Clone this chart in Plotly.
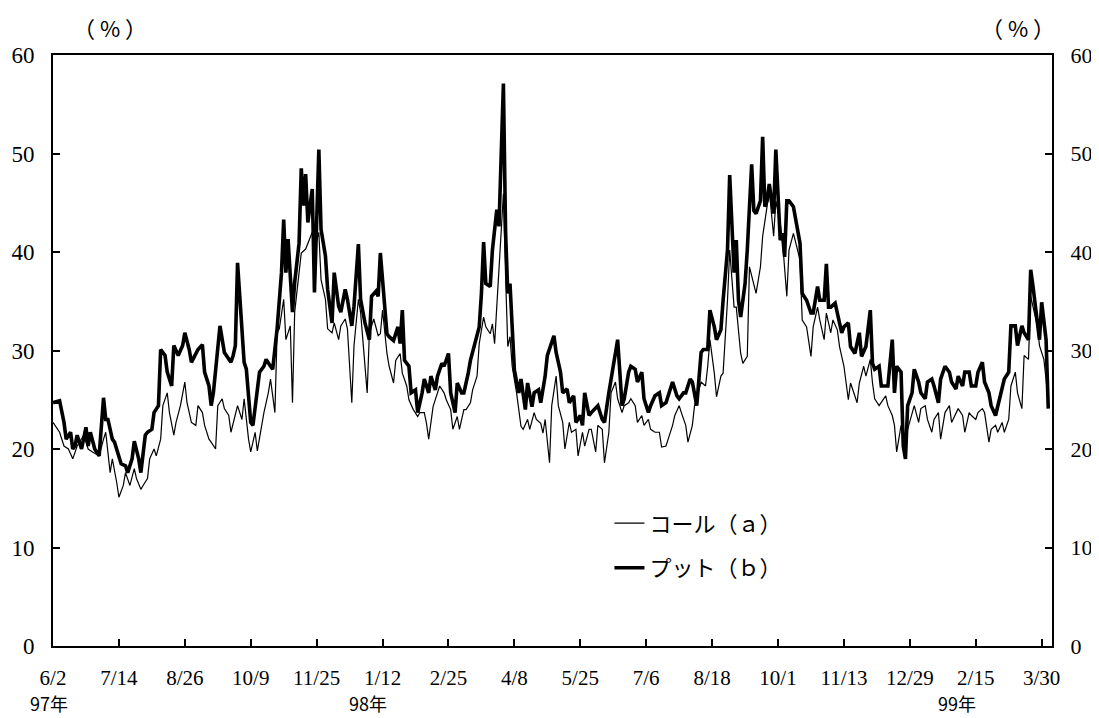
import plotly.graph_objects as go

# x = trading-day index counted from 1997/6/2
tick_days = [0, 30, 60, 90, 120, 150, 180, 210, 240, 270, 300, 330, 360, 390, 420, 450]
tick_labels = ["6/2", "7/14", "8/26", "10/9", "11/25", "1/12", "2/25", "4/8",
               "5/25", "7/6", "8/18", "10/1", "11/13", "12/29", "2/15", "3/30"]
y_ticks = [0, 10, 20, 30, 40, 50, 60]

call_day = [0, 3, 5, 7, 9, 11, 14, 16, 18, 21, 23, 24, 26, 27, 29, 30, 32, 33, 35, 37, 38, 40, 41, 43, 44, 46, 47, 49, 50, 52, 53, 55, 56, 58, 60, 61, 63, 65, 66, 68, 69, 71, 72,
            74, 75, 77, 78, 80, 81, 83, 84, 86, 87, 89, 90, 92, 93, 95, 96, 98, 99, 101, 102, 103, 105, 106, 108, 109, 110, 112, 113, 115, 116, 118, 119, 121, 122, 124, 125, 127, 128, 130, 131, 133, 134, 136, 137, 139, 140, 143, 144, 146, 148,
            149, 150, 152, 153, 155, 156, 158, 159, 161, 162, 164, 166, 167, 169, 170, 171, 173, 175, 176, 178, 179, 181, 182, 184, 185, 187, 188, 190, 191, 193, 194, 196, 197, 199, 200, 201, 203, 204, 205, 206, 207, 208, 209, 211, 213, 214, 216, 217, 219, 220, 222, 223,
            224, 226, 227, 229, 230, 232, 233, 235, 236, 238, 239, 241, 242, 244, 245, 247, 248, 250, 251, 253, 254, 256, 257, 259, 260, 262, 263, 265, 266, 268, 269, 271, 272, 274, 276, 277, 279, 280, 282, 283, 285, 286, 288, 289, 291, 292, 294, 295, 297, 298,
            299, 301, 302, 304, 305, 307, 308, 310, 311, 313, 314, 316, 317, 319, 320, 322, 323, 325, 326, 328, 329, 331, 332, 334, 335, 337, 338, 340, 341, 343, 345, 346, 348, 349, 351, 352, 354, 355, 357, 358, 360, 362, 363, 364, 366, 367, 369, 370, 372, 373,
            374, 376, 377, 379, 380, 382, 383, 384, 386, 388, 389, 391, 392, 394, 395, 397, 398, 400, 401, 403, 404, 406, 408, 409, 411, 412, 414, 415, 417, 418, 420, 421, 423, 424, 426, 427, 429, 430, 432, 433, 435, 436, 438, 439, 441, 442, 444, 445, 446, 448, 449, 451, 452, 453]
call_val = [22.7, 21.7, 20.3, 20.0, 19.0, 20.3, 21.4, 20.0, 19.7, 19.3, 21.0, 21.7, 17.6, 19.0, 16.6, 15.1, 16.3, 17.6, 16.3, 18.0, 17.0, 15.9, 16.3, 17.0, 19.0, 20.0, 19.3, 21.0, 24.4, 25.7, 23.7, 21.4, 22.7, 24.4, 26.8, 24.7, 22.7, 22.4, 24.4, 23.7, 22.4, 21.0, 20.7,
            20.0, 24.4, 25.1, 24.1, 23.4, 21.7, 23.7, 24.4, 23.0, 25.1, 21.0, 19.7, 21.7, 19.8, 22.4, 23.7, 25.7, 27.1, 23.7, 31.8, 32.2, 35.2, 31.1, 32.5, 24.7, 33.9, 37.9, 39.9, 40.3, 40.9, 42.0, 40.3, 42.0, 37.2, 35.2, 32.2, 31.8, 32.8, 31.1, 32.5, 33.2, 32.2, 24.7, 30.5, 35.2, 33.9, 25.7, 31.8, 33.2, 31.5,
            31.7, 34.1, 29.7, 28.4, 26.7, 29.0, 29.7, 27.7, 26.4, 25.0, 24.0, 23.3, 23.7, 23.7, 22.6, 21.0, 24.3, 25.7, 26.4, 25.7, 25.0, 24.0, 22.0, 23.3, 22.0, 24.0, 24.0, 24.7, 26.0, 27.4, 30.7, 33.4, 32.4, 31.7, 32.7, 30.7, 38.5, 41.8, 45.9, 37.5, 30.4, 31.4, 28.4, 25.7, 22.3, 22.0, 23.0, 22.0, 23.7, 23.0, 22.6, 21.6,
            23.0, 18.6, 24.4, 27.4, 24.4, 22.7, 20.0, 22.7, 21.7, 22.0, 19.3, 21.7, 20.3, 22.0, 22.0, 19.7, 22.4, 22.0, 18.6, 21.7, 25.7, 26.8, 25.1, 23.7, 24.4, 24.7, 25.1, 24.4, 22.7, 23.4, 22.4, 23.0, 22.0, 21.7, 21.7, 20.2, 20.3, 21.0, 22.4, 23.4, 24.4, 23.7, 22.4, 20.7, 22.4, 24.4, 26.1, 26.8, 26.4, 28.4,
            31.1, 27.7, 25.3, 27.4, 27.7, 35.1, 40.2, 34.4, 34.4, 29.7, 28.7, 29.4, 38.5, 36.5, 35.8, 38.5, 41.6, 44.6, 46.3, 41.6, 45.2, 42.9, 41.2, 35.5, 40.2, 41.9, 40.9, 39.2, 33.1, 32.4, 29.4, 32.4, 34.4, 33.1, 31.1, 33.8, 31.8, 33.1, 32.1, 30.4, 28.4, 25.0, 26.7, 26.0, 24.7, 26.7, 28.4, 27.4, 29.1, 26.7,
            25.1, 24.4, 24.7, 25.4, 24.4, 23.4, 22.4, 19.7, 22.4, 21.0, 22.0, 23.7, 24.4, 22.7, 24.1, 24.4, 23.0, 21.7, 23.0, 23.7, 21.0, 23.7, 24.4, 22.7, 23.7, 24.1, 23.4, 21.7, 23.7, 23.4, 23.0, 23.7, 24.1, 23.7, 20.7, 22.0, 22.4, 21.7, 22.7, 21.7, 23.0, 26.4, 27.8, 25.7, 24.1, 29.5, 29.1, 35.5, 34.5, 32.5, 30.5, 29.1, 27.1, 24.4]

put_day = [0, 3, 5, 6, 8, 9, 10, 11, 13, 15, 16, 17, 19, 21, 23, 24, 25, 27, 28, 30, 31, 33, 34, 36, 37, 39, 40, 42, 43, 45, 46, 48, 49, 51, 52, 54, 55, 57, 59, 60, 62, 63, 65, 66, 68, 69, 71, 72, 73,
           75, 76, 78, 79, 81, 82, 83, 84, 86, 87, 88, 89, 90, 91, 93, 94, 96, 97, 99, 100, 102, 103, 104, 105, 106, 107, 108, 109, 110, 112, 113, 114, 115, 116, 118, 119, 120, 121, 122, 124, 125, 127, 128, 130, 131, 133, 134, 136, 137, 139, 140, 142, 144, 145, 147, 148,
           149, 150, 152, 153, 155, 157, 158, 159, 160, 162, 163, 165, 166, 168, 169, 171, 172, 174, 175, 177, 178, 180, 181, 183, 184, 186, 187, 189, 190, 192, 194, 195, 196, 197, 199, 200, 202, 203, 204, 205, 206, 207, 208, 209, 210, 212, 213, 215, 216, 218, 219, 221, 222,
           224, 225, 228, 229, 231, 232, 234, 235, 237, 238, 240, 241, 242, 244, 245, 247, 248, 250, 251, 253, 254, 256, 257, 258, 259, 260, 262, 263, 265, 266, 268, 269, 271, 272, 274, 276, 277, 279, 280, 282, 284, 285, 287, 288, 290, 291, 293, 295, 296, 298,
           299, 301, 302, 304, 305, 307, 308, 309, 310, 311, 312, 313, 315, 316, 318, 319, 320, 322, 323, 324, 325, 326, 328, 329, 331, 332, 333, 334, 335, 337, 338, 340, 341, 343, 345, 346, 348, 349, 351, 352, 353, 354, 356, 357, 359, 360, 362, 363, 365, 367, 368, 370, 372, 373,
           374, 376, 377, 379, 380, 382, 383, 384, 386, 387, 388, 389, 391, 392, 394, 395, 397, 398, 400, 401, 403, 404, 406, 408, 409, 411, 412, 414, 415, 417, 418, 420, 421, 423, 424, 426, 427, 429, 430, 432, 433, 435, 436, 438, 439, 441, 442, 444, 445, 446, 448, 449, 450, 452, 453]
put_val = [24.7, 24.9, 22.7, 21.0, 21.7, 20.0, 20.3, 21.4, 20.0, 22.2, 20.3, 21.7, 20.0, 19.3, 25.2, 23.0, 23.0, 21.0, 20.7, 19.0, 18.5, 18.3, 17.6, 19.0, 20.8, 19.0, 17.6, 21.4, 21.7, 22.0, 23.7, 24.4, 30.1, 29.5, 27.8, 26.4, 30.5, 29.5, 30.5, 31.8, 30.1, 28.8, 29.8, 30.1, 30.6, 27.8, 26.4, 24.4, 25.7,
           29.8, 32.5, 29.8, 29.5, 28.8, 29.5, 30.5, 38.9, 31.1, 28.8, 28.1, 25.7, 22.7, 22.4, 25.7, 27.8, 28.4, 29.1, 28.4, 28.1, 32.2, 35.2, 37.9, 43.3, 37.9, 41.3, 37.2, 33.9, 36.9, 40.9, 48.5, 44.7, 47.9, 43.0, 46.4, 35.9, 43.0, 50.4, 42.3, 39.6, 36.2, 32.8, 37.9, 34.5, 33.9, 36.2, 35.2, 32.5, 34.5, 40.8, 35.2, 32.8, 31.1, 35.5, 36.0, 35.5,
           39.9, 36.8, 31.7, 31.4, 31.0, 32.4, 30.7, 34.1, 29.0, 28.4, 25.7, 26.0, 23.7, 25.7, 27.1, 25.7, 27.4, 26.0, 27.4, 28.7, 28.4, 29.7, 25.7, 23.7, 26.7, 25.7, 25.7, 27.7, 29.0, 30.7, 32.4, 35.8, 41.0, 36.8, 36.5, 40.2, 44.3, 42.6, 49.4, 57.1, 42.0, 35.8, 36.8, 32.4, 28.0, 25.7, 27.1, 24.0, 26.7, 24.3, 25.7, 26.0, 24.7,
           27.4, 29.5, 31.5, 29.8, 27.8, 25.7, 26.1, 24.7, 25.4, 22.7, 23.4, 22.4, 25.7, 23.4, 23.7, 24.1, 24.4, 23.0, 22.7, 25.7, 27.1, 29.5, 31.1, 27.8, 24.4, 25.1, 27.8, 28.4, 28.1, 26.8, 27.8, 25.1, 23.7, 24.4, 25.4, 25.7, 24.4, 24.7, 25.4, 26.8, 25.4, 25.1, 25.7, 25.7, 27.1, 26.8, 24.4, 29.8, 30.1, 30.1,
           34.1, 32.4, 31.1, 32.1, 35.1, 40.2, 47.8, 41.9, 37.9, 41.2, 35.1, 33.4, 36.8, 40.2, 48.9, 44.2, 43.9, 45.2, 51.7, 44.6, 45.2, 46.9, 43.9, 50.4, 41.2, 41.9, 39.5, 45.2, 45.2, 44.6, 43.5, 40.9, 35.8, 35.1, 33.8, 33.8, 36.5, 35.1, 35.1, 38.8, 34.4, 34.4, 34.8, 33.8, 31.8, 32.4, 32.8, 30.4, 29.7, 31.8, 29.4, 30.4, 34.1, 28.7,
           28.1, 28.4, 26.4, 26.4, 26.4, 31.1, 25.7, 28.4, 27.8, 20.3, 19.0, 24.4, 25.7, 28.1, 26.8, 25.7, 25.1, 26.8, 27.1, 26.4, 24.7, 27.1, 28.4, 27.8, 26.8, 26.1, 27.4, 26.4, 27.8, 27.8, 26.4, 26.4, 27.8, 28.8, 26.8, 25.7, 24.4, 23.4, 24.4, 26.4, 27.1, 27.8, 32.5, 32.5, 30.5, 32.5, 31.8, 31.1, 38.2, 36.6, 32.8, 31.1, 34.9, 31.1, 24.1]

serif = "Liberation Serif, Times New Roman, DejaVu Serif, serif"
cjk = "Noto Sans CJK JP"

fig = go.Figure()
fig.add_trace(go.Scatter(x=call_day, y=call_val, mode="lines", name="コール（ａ）",
                         line=dict(color="black", width=1.2), legendgroup="a"))
fig.add_trace(go.Scatter(x=put_day, y=put_val, mode="lines", name="プット（ｂ）",
                         line=dict(color="black", width=3.6), legendgroup="b"))
# invisible trace to drive the right-hand axis
fig.add_trace(go.Scatter(x=[tick_days[0]], y=[y_ticks[0]], yaxis="y2", mode="markers",
                         marker=dict(opacity=0), showlegend=False, hoverinfo="skip"))

# page body adds an 8px offset, so the figure is 8px smaller and margins shifted
fig.update_layout(
    width=1091, height=710,
    margin=dict(l=45, r=47, t=47, b=72),
    paper_bgcolor="white", plot_bgcolor="white",
    font=dict(family=serif, size=21, color="black"),
    xaxis=dict(range=[0, 454.7], tickvals=tick_days, ticktext=tick_labels,
               ticks="inside", ticklen=7, tickwidth=1.5, tickcolor="black",
               showline=True, linecolor="black", linewidth=2, mirror=True,
               showgrid=False, zeroline=False, ticklabelstandoff=12, automargin=False,
               tickfont=dict(family=serif, size=21)),
    yaxis=dict(range=[0, 60], tickvals=y_ticks, ticks="inside", ticklen=7, tickwidth=1.5,
               tickcolor="black", showline=True, linecolor="black", linewidth=2,
               showgrid=False, zeroline=False, ticklabelstandoff=12, automargin=False,
               tickfont=dict(family=serif, size=23)),
    yaxis2=dict(range=[0, 60], tickvals=y_ticks, overlaying="y", side="right",
                ticks="inside", ticklen=7, tickwidth=1.5, tickcolor="black",
                showline=True, linecolor="black", linewidth=2, showgrid=False,
                zeroline=False, ticklabelstandoff=12, automargin=False,
                tickfont=dict(family=serif, size=22)),
    legend=dict(x=0.557, y=0.243, xanchor="left", yanchor="top", bgcolor="rgba(0,0,0,0)",
                font=dict(family=cjk, size=22), tracegroupgap=13,
                traceorder="grouped"),
    showlegend=True,
)

ann = [
    dict(text="（ % ）", x=0.057, y=1.047),
    dict(text="（ % ）", x=0.966, y=1.047),
    dict(text="97年", x=-0.004, y=-0.097),
    dict(text="98年", x=0.315, y=-0.097),
    dict(text="99年", x=0.905, y=-0.097),
]
for a in ann:
    fig.add_annotation(text=a["text"], x=a["x"], y=a["y"], xref="paper", yref="paper",
                       showarrow=False, xanchor="center", yanchor="middle",
                       font=dict(family=cjk, size=22 if "%" in a["text"] else 18, color="black"))

fig.write_html("out.html")
